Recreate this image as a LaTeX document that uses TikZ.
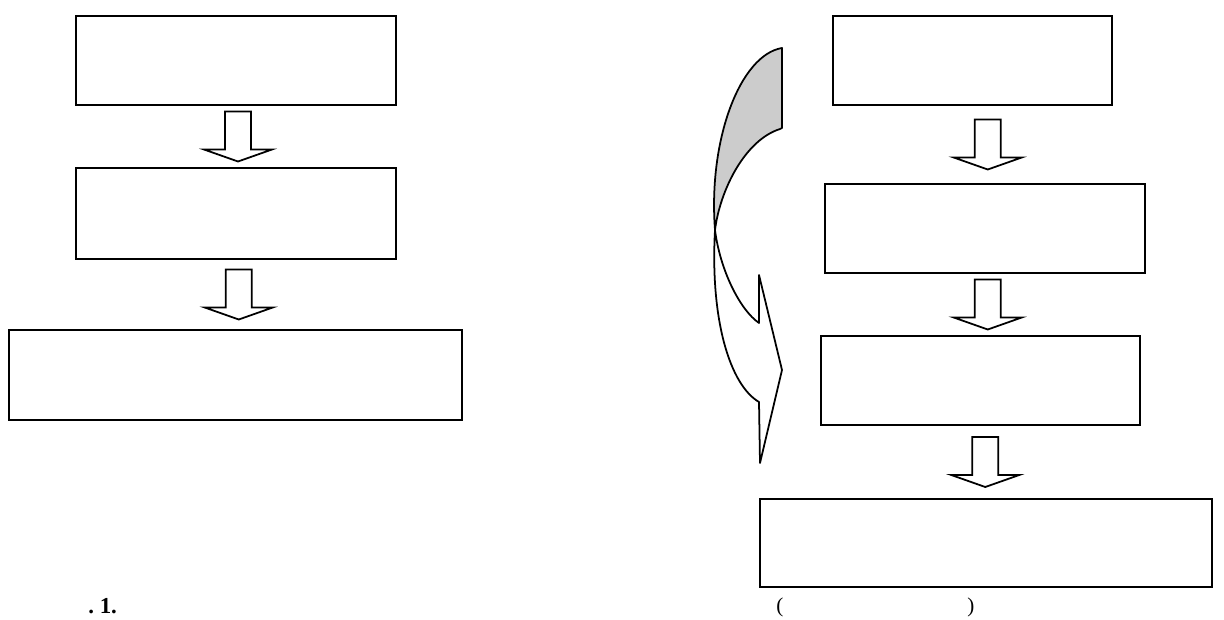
\documentclass[tikz,border=0pt]{standalone}
\usepackage{fontspec}
\setmainfont{Liberation Serif}
\usepackage{tikz}
\usetikzlibrary{positioning,calc}
\definecolor{ink}{gray}{0.0}
\definecolor{back}{gray}{0.80}
\tikzset{
  box/.style={draw=ink, line width=1.4pt, fill=white, inner sep=0pt,
              minimum width=6.4cm, minimum height=1.78cm},
  hollow/.style={draw=ink, line width=1pt, fill=white, line join=miter},
  ribbon/.style={draw=ink, line width=1pt, line join=round},
  lbl/.style={font=\fontsize{13}{15}\selectfont\bfseries, inner sep=0pt},
}
\newcommand\fatarrow[3]{%
  \coordinate (mid) at ($(#1.south)!0.5!(#2.north)+(#3,0)$);
  \draw[hollow] ($(mid)+(-13,-25)$) -- ($(mid)+(13,-25)$) -- ($(mid)+(13,13)$)
    -- ($(mid)+(34,13)$) -- ($(mid)+(0,25)$) -- ($(mid)+(-34,13)$)
    -- ($(mid)+(-13,13)$) -- cycle;}

\begin{document}
\begin{tikzpicture}[x=0.02cm, y=-0.02cm]
    \useasboundingbox (0,0) rectangle (1224,619);

    \node[box] (l1) at (236,60.5) {};
    \node[box, minimum height=1.82cm] (l2) at (236,213.5) {};
    \node[box, minimum width=9.06cm, minimum height=1.8cm] (l3) at (235.5,375) {};

    \node[box, minimum width=5.58cm] (r1) at (972.5,60.5) {};
    \node[box] (r2) at (985,228.5) {};
    \node[box, minimum width=6.38cm] (r3) at (980.5,380.5) {};
    \node[box, minimum width=9.04cm, minimum height=1.76cm] (r4) at (986,543) {};

    \fatarrow{l1}{l2}{2}
    \fatarrow{l2}{l3}{3}
    \fatarrow{r1}{r2}{9}
    \fatarrow{r2}{r3}{5}
    \fatarrow{r3}{r4}{2}

    \draw[ribbon, fill=back] (782,48) -- (782,128) -- (780,129)
      .. controls (745,140) and (720,190) .. (715,230)
      .. controls (708,140) and (740,55) .. (782,48) -- cycle;
    \draw[ribbon, fill=white] (715,230) .. controls (710,320) and (730,385) .. (759,402)
      -- (760,463) -- (782,370) -- (759,275) -- (759,323)
      .. controls (740,310) and (720,270) .. (715,230) -- cycle;

    \node[lbl, anchor=base west] (fig) at (88,613) {.\ 1.};
    \node[font=\fontsize{12}{14}\selectfont, inner sep=0pt, anchor=base west] (note)
      at (776,612) {(\hspace{3.68cm})};
  \end{tikzpicture}
\end{document}
